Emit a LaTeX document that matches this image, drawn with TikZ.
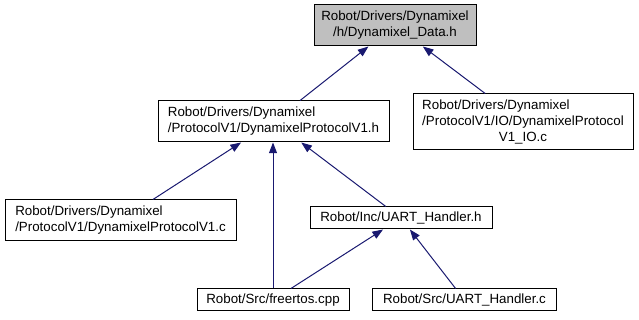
\documentclass[tikz,border=0pt]{standalone}
\usepackage{fontspec}
\setmainfont{Liberation Sans}
\usetikzlibrary{arrows.meta}
\definecolor{edgeblue}{HTML}{191970}
\definecolor{curfile}{HTML}{BFBFBF}
\begin{document}
\begin{tikzpicture}[x=0.75pt,y=-0.75pt,
  filebox/.style={draw=black,line width=0.75pt,fill=white,inner sep=0pt,
    font=\fontsize{10pt}{12pt}\selectfont,minimum height=30.75pt},
  dep/.style={draw=edgeblue,line width=0.75pt,
    -{Triangle[length=8pt,width=6pt]}}]
  \useasboundingbox (0,0) rectangle (639,320);

  % header whose includers are shown
  \node[filebox,fill=curfile,minimum width=121.5pt] (top) at (395,25.5)
    {\begin{tabular}{@{}l@{}}Robot/Drivers/Dynamixel\\\multicolumn{1}{@{}c@{}}{/h/Dynamixel\_Data.h}\end{tabular}};

  \node[filebox,minimum width=173.25pt] (p1h) at (273.5,121.5)
    {\begin{tabular}{@{}l@{}}Robot/Drivers/Dynamixel\\/ProtocolV1/DynamixelProtocolV1.h\end{tabular}};

  \node[filebox,minimum width=165pt,minimum height=42pt] (io) at (523,122)
    {\begin{tabular}{@{}l@{}}Robot/Drivers/Dynamixel\\/ProtocolV1/IO/DynamixelProtocol\\\multicolumn{1}{@{}c@{}}{V1\_IO.c}\end{tabular}};

  \node[filebox,minimum width=173.25pt] (p1c) at (120.5,220.5)
    {\begin{tabular}{@{}l@{}}Robot/Drivers/Dynamixel\\/ProtocolV1/DynamixelProtocolV1.c\end{tabular}};

  \node[filebox,minimum width=136.5pt,minimum height=16.5pt] (uh) at (401,218)
    {Robot/Inc/UART\_Handler.h};

  \node[filebox,minimum width=114pt,minimum height=16.5pt] (fr) at (273,300)
    {Robot/Src/freertos.cpp};

  \node[filebox,minimum width=138pt,minimum height=16.5pt] (uc) at (464.5,300)
    {Robot/Src/UART\_Handler.c};

  % include dependencies, aimed centre to centre
  \draw[dep] (p1h) -- (top);
  \draw[dep] (io) -- (top);
  \draw[dep] (p1c) -- (p1h);
  \draw[dep] (fr) -- (fr |- p1h.south);
  \draw[dep] (uh) -- (p1h);
  \draw[dep] (fr) -- (uh);
  \draw[dep] (uc) -- (uh);
\end{tikzpicture}
\end{document}
